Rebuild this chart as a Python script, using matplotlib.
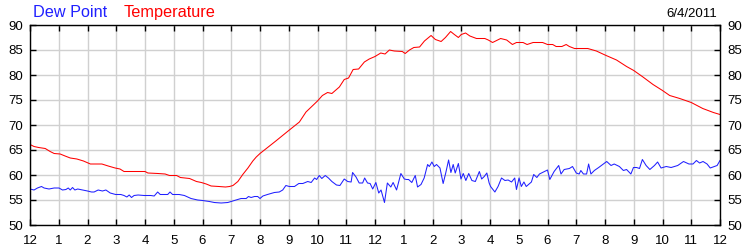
import matplotlib
matplotlib.use("Agg")
import matplotlib.pyplot as plt

plt.rcParams['font.family'] = ['Liberation Sans', 'DejaVu Sans']

# hours after midnight, degrees F
temp_hours = [0, 0.14, 0.3, 0.53, 0.7, 0.84, 1.05, 1.22, 1.4, 1.63, 1.86, 2.1, 2.38, 2.5,
              2.72, 2.96, 3.13, 3.27, 3.83, 4.0, 4.1, 4.45, 4.7, 4.85, 5.1, 5.23, 5.55,
              5.79, 5.96, 6.13, 6.3, 6.57, 6.8, 6.94, 7.06, 7.23, 7.4, 7.58, 7.75, 7.87,
              8.0, 8.55, 9.0, 9.37, 9.6, 10.0, 10.17, 10.35, 10.5, 10.76, 10.93, 11.08,
              11.24, 11.43, 11.63, 11.8, 12.0, 12.2, 12.35, 12.5, 12.67, 12.95, 13.05,
              13.2, 13.35, 13.55, 13.72, 13.95, 14.1, 14.3, 14.45, 14.63, 14.76, 14.9,
              15.0, 15.15, 15.3, 15.53, 15.82, 15.94, 16.09, 16.37, 16.58, 16.78, 16.92,
              17.15, 17.29, 17.5, 17.83, 18.0, 18.18, 18.3, 18.5, 18.65, 18.76, 18.94,
              19.4, 19.7, 20.0, 20.4, 20.75, 21.0, 21.32, 21.67, 22.0, 22.25, 22.6, 23.0,
              23.4, 23.77, 24.0]
temperature = [66.1, 65.7, 65.5, 65.3, 64.7, 64.3, 64.2, 63.8, 63.4, 63.2, 62.8, 62.2, 62.2, 62.2,
               61.8, 61.4, 61.2, 60.7, 60.7, 60.7, 60.4, 60.3, 60.2, 59.9, 59.9, 59.5, 59.3,
               58.7, 58.5, 58.2, 57.8, 57.7, 57.6, 57.7, 57.9, 58.7, 60.1, 61.4, 62.8, 63.6,
               64.3, 66.8, 68.9, 70.6, 72.6, 74.8, 75.9, 76.5, 76.3, 77.6, 79.1, 79.4,
               81.1, 81.2, 82.6, 83.2, 83.7, 84.4, 84.2, 85.0, 84.8, 84.7, 84.3,
               85.0, 85.5, 85.6, 86.8, 87.9, 87.1, 86.7, 87.5, 88.7, 88.1, 87.5,
               88.1, 88.4, 87.8, 87.3, 87.3, 87.0, 86.5, 87.3, 87.0, 86.1, 86.5,
               86.5, 86.1, 86.5, 86.5, 86.1, 86.1, 85.7, 85.7, 86.1, 85.7, 85.3,
               85.3, 84.8, 84.0, 83.0, 81.7, 80.9, 79.6, 78.1, 76.9, 75.9, 75.3, 74.5,
               73.3, 72.5, 72.1]

dew_hours = [0, 0.14, 0.26, 0.4, 0.49, 0.66, 0.84, 1.01, 1.13, 1.25, 1.33, 1.4, 1.48, 1.56,
             1.66, 1.83, 2.0, 2.14, 2.23, 2.37, 2.52, 2.64, 2.79, 2.98, 3.16, 3.27, 3.37,
             3.45, 3.53, 3.62, 3.76, 3.97, 4.2, 4.32, 4.44, 4.53, 4.79, 4.87, 4.96, 5.19,
             5.37, 5.6, 5.83, 6.0, 6.24, 6.41, 6.65, 6.88, 7.11, 7.34, 7.52, 7.6, 7.69,
             7.81, 7.92, 8.0, 8.1, 8.26, 8.38, 8.5, 8.67, 8.79, 8.9, 9.02, 9.2, 9.35,
             9.49, 9.66, 9.78, 9.9, 9.97, 10.06, 10.15, 10.27, 10.38, 10.5, 10.66, 10.78,
             10.93, 11.05, 11.17, 11.22, 11.34, 11.45, 11.57, 11.64, 11.74, 11.83, 11.92,
             12.03, 12.13, 12.21, 12.33, 12.43, 12.55, 12.63, 12.75, 12.9, 13.02, 13.1,
             13.17, 13.28, 13.4, 13.48, 13.6, 13.71, 13.83, 13.89, 13.98, 14.06, 14.14,
             14.26, 14.37, 14.46, 14.56, 14.64, 14.72, 14.79, 14.9, 14.99, 15.07, 15.16,
             15.26, 15.37, 15.49, 15.63, 15.71, 15.8, 15.89, 15.97, 16.02, 16.17, 16.28,
             16.4, 16.52, 16.63, 16.75, 16.86, 16.92, 17.01, 17.09, 17.18, 17.26, 17.44,
             17.52, 17.63, 17.72, 17.9, 18.0, 18.08, 18.23, 18.39, 18.47, 18.58, 18.76,
             18.87, 19.0, 19.1, 19.16, 19.25, 19.36, 19.43, 19.51, 19.63, 19.78, 19.92,
             20.06, 20.21, 20.32, 20.5, 20.64, 20.75, 20.9, 20.99, 21.1, 21.2, 21.3,
             21.43, 21.56, 21.72, 21.83, 21.95, 22.13, 22.3, 22.53, 22.73, 22.92, 23.06,
             23.18, 23.29, 23.41, 23.55, 23.66, 23.81, 23.9, 24.0]
dew_point = [57.2, 57.0, 57.4, 57.7, 57.4, 57.2, 57.4, 57.4, 57.0, 57.1, 57.4, 57.0, 57.5, 57.0,
             57.2, 57.0, 56.8, 56.6, 56.6, 57.0, 56.8, 57.0, 56.4, 56.1, 56.1, 55.9, 55.6,
             56.0, 55.5, 55.9, 56.0, 55.9, 55.9, 55.8, 56.6, 56.1, 56.1, 56.6, 56.1, 56.1,
             55.9, 55.3, 55.0, 54.9, 54.7, 54.5, 54.4, 54.5, 54.9, 55.3, 55.3, 55.7, 55.5,
             55.7, 55.7, 55.3, 55.8, 56.1, 56.3, 56.5, 56.6, 57.0, 57.9, 57.7, 57.7, 58.3,
             58.3, 58.7, 58.5, 59.4, 59.1, 59.9, 59.3, 59.9, 59.4, 58.7, 58.0, 57.9,
             59.2, 58.7, 58.6, 60.5, 59.6, 58.4, 58.4, 59.4, 58.4, 58.3, 57.2,
             58.5, 56.4, 57.0, 54.5, 58.4, 57.6, 58.5, 57.0, 60.3, 59.2, 59.1,
             59.1, 58.5, 59.9, 57.6, 58.1, 59.4, 62.1, 61.7, 62.6, 61.7, 62.1,
             61.4, 58.3, 60.4, 63.0, 60.5, 62.1, 60.4, 62.3, 59.2, 60.3, 58.9,
             60.3, 58.9, 58.7, 60.7, 59.2, 59.7, 60.4, 58.4, 57.7, 56.6, 57.7,
             59.4, 58.9, 59.0, 58.6, 59.4, 57.1, 59.4, 57.7, 58.6, 57.7, 58.6,
             60.1, 59.5, 60.2, 60.7, 61.0, 59.1, 60.7, 61.9, 60.2, 61.1, 61.3,
             61.7, 60.4, 60.2, 60.9, 60.2, 60.2, 62.2, 60.2, 60.9, 61.5, 62.1,
             62.7, 61.9, 62.2, 61.7, 60.9, 61.1, 60.2, 61.5, 61.5, 61.3, 63.1,
             61.9, 61.1, 61.9, 62.6, 61.4, 61.7, 61.5, 61.9, 62.7, 62.2, 62.2,
             62.9, 62.4, 62.7, 62.2, 61.4, 61.7, 61.9, 62.9]

hour_labels = ['12', '1', '2', '3', '4', '5', '6', '7', '8', '9', '10', '11',
               '12', '1', '2', '3', '4', '5', '6', '7', '8', '9', '10', '11', '12']
y_ticks = [50, 55, 60, 65, 70, 75, 80, 85, 90]

fig = plt.figure(figsize=(7.5, 2.5), dpi=100)
ax = fig.add_axes([0.04, 0.1, 0.92, 0.8])

ax.plot(temp_hours, temperature, color='#ff0000', lw=0.75)
ax.plot(dew_hours, dew_point, color='#2020ff', lw=0.75)

ax.set_xlim(0, 24)
ax.set_ylim(50, 90)
ax.set_xticks(range(25))
ax.set_xticklabels(hour_labels)
ax.set_yticks(y_ticks)
ax.grid(True, color='#d0d0d0', lw=1)
ax.set_axisbelow(True)
ax.tick_params(direction='in', length=4, width=1, color='black', labelsize=9.5,
               top=True, right=True, labelright=True, pad=5)
ax.tick_params(axis='x', pad=7)
for s in ax.spines.values():
    s.set_color('black')
    s.set_linewidth(1)

fig.text(33 / 750, 1 - 17.3 / 250, 'Dew Point', color='#2020ff', fontsize=11.7, va='baseline')
fig.text(124 / 750, 1 - 17.3 / 250, 'Temperature', color='#ff0000', fontsize=11.7, va='baseline')
fig.text(717 / 750, 1 - 17.3 / 250, '6/4/2011', color='black', fontsize=9.5, va='baseline', ha='right')

fig.savefig('out.png', dpi=100)
